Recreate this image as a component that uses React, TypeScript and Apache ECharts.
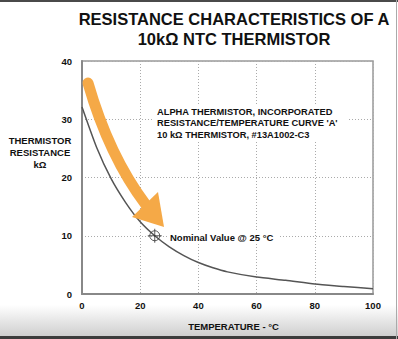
import React, { useEffect, useRef } from "react";
import * as echarts from "echarts";

const temperatures = [0, 5, 10, 15, 20, 25, 30, 35, 40, 45, 50, 60, 70, 80, 90, 100];
const resistances = [32.1, 25.2, 19.8, 15.7, 12.4, 10, 8.1, 6.6, 5.4, 4.5, 3.8, 2.9, 2.35, 1.7, 1.3, 0.9];
const nominalPoint = [25, 10];
const xTicks = { min: 0, max: 100, interval: 20 };
const yTicks = { min: 0, max: 40, interval: 10 };
const titleLines = ["RESISTANCE CHARACTERISTICS OF A", "10kΩ NTC THERMISTOR"];
const yNameLines = ["THERMISTOR", "RESISTANCE", "kΩ"];
const noteLines = [
  "ALPHA THERMISTOR, INCORPORATED",
  "RESISTANCE/TEMPERATURE CURVE 'A'",
  "10 kΩ THERMISTOR, #13A1002-C3",
];
const nominalLabel = "Nominal Value @ 25 °C";

const FONT = "Liberation Sans, Arial, Helvetica, sans-serif";
const ORANGE = "#F5A947";

export default function App() {
  const ref = useRef<HTMLDivElement>(null);
  useEffect(() => {
    if (!ref.current) return;
    const chart = echarts.init(ref.current, null, { renderer: "svg" });
    const option: any = {
      animation: false,
      backgroundColor: "#ffffff",
      title: {
        text: titleLines.join("\n"),
        left: 229,
        top: 4,
        textAlign: "center",
        textStyle: {
          fontFamily: FONT,
          fontWeight: "bold",
          fontSize: 16.5,
          lineHeight: 20,
          color: "#111",
        },
      },
      grid: {
        left: 82,
        right: 25,
        top: 61,
        bottom: 45,
        show: true,
        borderColor: "#999",
        borderWidth: 1.5,
        backgroundColor: "transparent",
      },
      xAxis: {
        type: "value",
        min: xTicks.min,
        max: xTicks.max,
        interval: xTicks.interval,
        name: "TEMPERATURE - °C",
        nameLocation: "middle",
        nameGap: 27,
        nameTextStyle: {
          fontFamily: FONT,
          fontWeight: "bold",
          fontSize: 9.5,
          color: "#111",
          padding: [0, 0, 0, 12],
        },
        axisLine: { show: true, lineStyle: { color: "#888", width: 2 } },
        axisTick: { show: false },
        axisLabel: {
          margin: 6,
          fontFamily: FONT,
          fontWeight: "bold",
          fontSize: 9.5,
          color: "#111",
        },
        splitLine: { show: true, lineStyle: { color: "#aaa", type: [1, 2], width: 1 } },
      },
      yAxis: {
        type: "value",
        min: yTicks.min,
        max: yTicks.max,
        interval: yTicks.interval,
        axisLine: { show: true, lineStyle: { color: "#888", width: 2 } },
        axisTick: { show: false },
        axisLabel: {
          margin: 10,
          fontFamily: FONT,
          fontWeight: "bold",
          fontSize: 9.5,
          color: "#111",
        },
        splitLine: { show: true, lineStyle: { color: "#aaa", type: [1, 2], width: 1 } },
      },
      series: [
        {
          type: "line",
          data: temperatures.map((t, i) => [t, resistances[i]]),
          smooth: 0.2,
          showSymbol: false,
          lineStyle: { color: "#555", width: 1.5 },
          z: 3,
        },
        {
          type: "scatter",
          data: [nominalPoint],
          symbol:
            "path://M10,0A10,10 0 1 1 -10,0A10,10 0 1 1 10,0ZM0,-14L0,14M-14,0L14,0",
          symbolSize: 14,
          itemStyle: { color: "none", borderColor: "#333", borderWidth: 1 },
          z: 5,
        },
      ],
      graphic: [
        {
          type: "rect",
          z: -10,
          shape: { x: 0, y: 305, width: 398, height: 32 },
          style: {
            fill: new echarts.graphic.LinearGradient(0, 0, 0, 1, [
              { offset: 0, color: "#ffffff" },
              { offset: 1, color: "#cdcdcd" },
            ]),
          },
        },
        { type: "rect", z: 10, shape: { x: 0, y: 0, width: 398, height: 2 }, style: { fill: "#4a4a4a" } },
        { type: "rect", z: 10, shape: { x: 0, y: 336, width: 398, height: 3 }, style: { fill: "#3c3c3c" } },
        { type: "rect", z: 10, shape: { x: 396, y: 0, width: 1, height: 339 }, style: { fill: "#aaa" } },
        {
          type: "text",
          x: 40,
          y: 135,
          style: {
            text: yNameLines.join("\n"),
            textAlign: "center",
            fontFamily: FONT,
            fontWeight: "bold",
            fontSize: 9.5,
            lineHeight: 11.8,
            fill: "#111",
          },
        },
        {
          type: "rect",
          z: 4,
          shape: { x: 153, y: 104, width: 195, height: 38 },
          style: { fill: "#fff" },
        },
        {
          type: "text",
          z: 5,
          x: 157,
          y: 106,
          style: {
            text: noteLines.join("\n"),
            fontFamily: FONT,
            fontWeight: "bold",
            fontSize: 9.3,
            lineHeight: 11.6,
            fill: "#111",
          },
        },
        {
          type: "rect",
          z: 4,
          shape: { x: 167, y: 230, width: 113, height: 14 },
          style: { fill: "#fff" },
        },
        {
          type: "text",
          z: 5,
          x: 170,
          y: 237,
          style: {
            text: nominalLabel,
            textVerticalAlign: "middle",
            verticalAlign: "middle",
            fontFamily: FONT,
            fontWeight: "bold",
            fontSize: 9.5,
            fill: "#111",
          },
        },
        {
          type: "bezierCurve",
          z: 8,
          shape: { x1: 88, y1: 83, cpx1: 109, cpy1: 156, x2: 146, y2: 205 },
          style: { stroke: ORANGE, lineWidth: 11, lineCap: "round", fill: "none" },
        },
        {
          type: "polygon",
          z: 8,
          shape: { points: [[132, 217], [158, 192], [164, 227]] },
          style: { fill: ORANGE },
        },
      ],
    };
    chart.setOption(option);
    return () => chart.dispose();
  }, []);
  return (
    <div
      ref={ref}
      style={{ position: "fixed", left: 0, top: 0, width: 398, height: 339 }}
    />
  );
}
